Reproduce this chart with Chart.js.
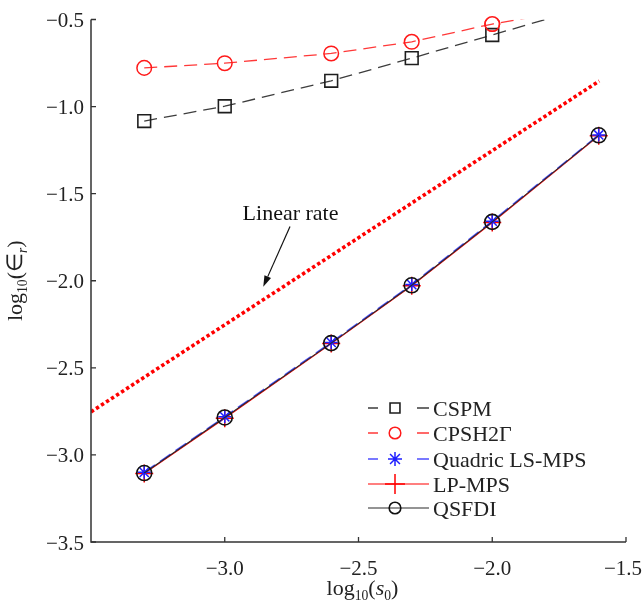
<!DOCTYPE html>
<html>
<head>
<meta charset="utf-8">
<script src="https://cdn.jsdelivr.net/npm/chart.js@4.4.1/dist/chart.umd.min.js"></script>
<style>
  html, body { margin: 0; padding: 0; background: #fff; }
  #wrap { width: 643px; height: 613px; }
</style>
</head>
<body>
<div id="wrap"><canvas id="c" width="643" height="613"></canvas></div>
<script>
// log10 of the particle spacing s0
const logS0 = [-3.301, -3.0, -2.602, -2.301, -2.0, -1.602];

// log10 of the error for each method
const cspm         = [-1.083, -0.998, -0.852, -0.722, -0.589, -0.410];
const cpsh2g       = [-0.778, -0.751, -0.695, -0.628, -0.526, -0.420];
const quadricLsMps = [-3.100, -2.781, -2.354, -2.022, -1.658, -1.163];
const lpMps        = [-3.107, -2.789, -2.361, -2.029, -1.665, -1.167];
const qsfdi        = [-3.104, -2.785, -2.358, -2.026, -1.662, -1.165];

// reference slope-1 line
const linearRateX = [-3.5, -1.6];
const linearRateY = [-2.753, -0.853];

const seriesNames = ['CSPM', 'CPSH2Γ', 'Quadric LS-MPS', 'LP-MPS', 'QSFDI'];

const xTickValues = [-3.0, -2.5, -2.0, -1.5];
const xTickLabels = ['−3.0', '−2.5', '−2.0', '−1.5'];
const yTickValues = [-0.5, -1.0, -1.5, -2.0, -2.5, -3.0, -3.5];
const yTickLabels = ['−0.5', '−1.0', '−1.5', '−2.0', '−2.5', '−3.0', '−3.5'];

const SERIF = "'Liberation Serif', 'Times New Roman', serif";

const pts = (xs, ys) => xs.map((x, i) => ({ x: x, y: ys[i] }));

const datasets = [
  {
    label: seriesNames[0], data: pts(logS0, cspm), order: 2,
    borderColor: '#3d3d3d', borderWidth: 1.3, borderDash: [13, 7],
    pointStyle: 'rect', pointRadius: 9, pointBorderColor: '#1e1e1e',
    pointBackgroundColor: 'rgba(0,0,0,0)', pointBorderWidth: 1.6
  },
  {
    label: seriesNames[1], data: pts(logS0, cpsh2g), order: 3,
    borderColor: '#ff3838', borderWidth: 1.3, borderDash: [13, 7],
    pointStyle: 'circle', pointRadius: 7.3, pointBorderColor: '#ff1a1a',
    pointBackgroundColor: 'rgba(0,0,0,0)', pointBorderWidth: 1.5
  },
  {
    label: seriesNames[2], data: pts(logS0, quadricLsMps), order: 4,
    borderColor: '#4d4dff', borderWidth: 1.6, borderDash: [13, 6],
    pointStyle: 'star', pointRadius: 6.5, pointBorderColor: '#1f1fff',
    pointBackgroundColor: 'rgba(0,0,0,0)', pointBorderWidth: 1.5
  },
  {
    label: seriesNames[3], data: pts(logS0, lpMps), order: 5,
    borderColor: '#ff0000', borderWidth: 1.2,
    pointStyle: 'cross', pointRadius: 9, pointBorderColor: '#ff0000',
    pointBackgroundColor: 'rgba(0,0,0,0)', pointBorderWidth: 1.5
  },
  {
    label: seriesNames[4], data: pts(logS0, qsfdi), order: 1,
    borderColor: '#2a2a2a', borderWidth: 1.1,
    pointStyle: 'circle', pointRadius: 7.5, pointBorderColor: '#111',
    pointBackgroundColor: 'rgba(0,0,0,0)', pointBorderWidth: 1.6
  },
  {
    label: 'Linear rate', data: pts(linearRateX, linearRateY), order: 9,
    borderColor: '#ff0000', borderWidth: 3.6, borderDash: [3.4, 2.6],
    pointRadius: 0
  }
];

// Draw rich text (subscripts / italics) left-aligned at (x, y) baseline
function richWidth(ctx, parts, size) {
  let w = 0;
  for (const p of parts) {
    ctx.font = (p.italic ? 'italic ' : '') + (p.sub ? size * 0.62 : size) + 'px ' + SERIF;
    w += ctx.measureText(p.t).width;
  }
  return w;
}
function richDraw(ctx, parts, size, x, y) {
  for (const p of parts) {
    ctx.font = (p.italic ? 'italic ' : '') + (p.sub ? size * 0.62 : size) + 'px ' + SERIF;
    ctx.fillText(p.t, x, p.sub ? y + size * 0.22 : y);
    x += ctx.measureText(p.t).width;
  }
}

// Markers sitting just under the top edge are redrawn without the area clip
const edgeMarkersPlugin = {
  id: 'edgeMarkers',
  afterDatasetsDraw(chart) {
    const a = chart.chartArea;
    const ctx = chart.ctx;
    [0, 1].forEach(i => {
      const meta = chart.getDatasetMeta(i);
      meta.data.forEach(el => {
        if (el.y >= a.top && el.y < a.top + 12) {
          ctx.save();
          el.draw(ctx, { left: 0, top: 0, right: chart.width, bottom: chart.height });
          ctx.restore();
        }
      });
    });
  }
};

const axesPlugin = {
  id: 'framedAxes',
  afterDraw(chart) {
    const ctx = chart.ctx;
    const xs = chart.scales.x, ys = chart.scales.y;
    const a = chart.chartArea;
    ctx.save();
    // axis lines
    ctx.strokeStyle = '#333';
    ctx.lineWidth = 1.5;
    ctx.beginPath();
    ctx.moveTo(a.left, a.top);
    ctx.lineTo(a.left, a.bottom);
    ctx.lineTo(a.right, a.bottom);
    ctx.stroke();
    // inward tick marks
    ctx.lineWidth = 1.3;
    ctx.beginPath();
    xTickValues.forEach(v => {
      const px = xs.getPixelForValue(v);
      ctx.moveTo(px, a.bottom);
      ctx.lineTo(px, a.bottom - 5);
    });
    yTickValues.forEach(v => {
      const py = ys.getPixelForValue(v);
      ctx.moveTo(a.left, py);
      ctx.lineTo(a.left + 5, py);
    });
    ctx.stroke();
    // tick labels
    ctx.fillStyle = '#222';
    ctx.font = '21px ' + SERIF;
    ctx.textBaseline = 'alphabetic';
    ctx.textAlign = 'center';
    xTickValues.forEach((v, i) => {
      let px = xs.getPixelForValue(v);
      const w = ctx.measureText(xTickLabels[i]).width;
      px = Math.min(px, chart.width - 1 - w / 2);
      ctx.fillText(xTickLabels[i], px, a.bottom + 33);
    });
    ctx.textAlign = 'right';
    yTickValues.forEach((v, i) => {
      const py = ys.getPixelForValue(v);
      ctx.fillText(yTickLabels[i], a.left - 7, py + 7.5);
    });
    // axis titles
    ctx.textAlign = 'left';
    const xTitle = [{ t: 'log' }, { t: '10', sub: true }, { t: '(' }, { t: 's', italic: true }, { t: '0', sub: true }, { t: ')' }];
    const xw = richWidth(ctx, xTitle, 22);
    richDraw(ctx, xTitle, 22, (a.left + a.right) / 2 + 4 - xw / 2, 595);
    const yTitle = [{ t: 'log' }, { t: '10', sub: true }, { t: '(' }, { t: '∈' }, { t: 'r', sub: true, italic: true }, { t: ')' }];
    const yw = richWidth(ctx, yTitle, 22);
    ctx.save();
    ctx.translate(22, (a.top + a.bottom) / 2);
    ctx.rotate(-Math.PI / 2);
    richDraw(ctx, yTitle, 22, -yw / 2, 0);
    ctx.restore();

    // "Linear rate" annotation with arrow
    ctx.font = '22px ' + SERIF;
    ctx.textAlign = 'center';
    ctx.fillStyle = '#111';
    ctx.fillText('Linear rate', xs.getPixelForValue(-2.754), ys.getPixelForValue(-1.611) + 7.5);
    const tx = xs.getPixelForValue(-2.756), ty = ys.getPixelForValue(-1.689);
    const hx = xs.getPixelForValue(-2.856), hy = ys.getPixelForValue(-2.034);
    const ang = Math.atan2(hy - ty, hx - tx);
    const hl = 11, hw = 3.6;
    const bx = hx - hl * Math.cos(ang), by = hy - hl * Math.sin(ang);
    ctx.strokeStyle = '#111';
    ctx.lineWidth = 1.2;
    ctx.beginPath();
    ctx.moveTo(tx, ty);
    ctx.lineTo(bx, by);
    ctx.stroke();
    ctx.beginPath();
    ctx.moveTo(hx, hy);
    ctx.lineTo(bx + hw * Math.sin(ang), by - hw * Math.cos(ang));
    ctx.lineTo(bx - hw * Math.sin(ang), by + hw * Math.cos(ang));
    ctx.closePath();
    ctx.fillStyle = '#111';
    ctx.fill();

    // legend
    const legendRows = [408, 433, 459, 484, 508];
    const legendMarker = [7, 5.8, 7, 10, 5.8];
    const x0 = 368, x1 = 429, mx = 395;
    for (let i = 0; i < 5; i++) {
      const ds = chart.data.datasets[i];
      const y = legendRows[i];
      ctx.strokeStyle = ds.borderColor;
      ctx.lineWidth = ds.borderWidth;
      ctx.setLineDash([]);
      ctx.beginPath();
      if (ds.borderDash) {
        ctx.moveTo(x0, y); ctx.lineTo(x0 + 10, y);
        ctx.moveTo(x1 - 12, y); ctx.lineTo(x1, y);
      } else {
        ctx.moveTo(x0, y); ctx.lineTo(x1, y);
      }
      ctx.stroke();
      ctx.strokeStyle = ds.pointBorderColor;
      ctx.fillStyle = 'rgba(0,0,0,0)';
      ctx.lineWidth = ds.pointBorderWidth;
      Chart.helpers.drawPoint(ctx, {
        pointStyle: ds.pointStyle, radius: legendMarker[i], rotation: 0,
        borderWidth: ds.pointBorderWidth
      }, mx, y);
      ctx.fillStyle = '#222';
      ctx.font = '22px ' + SERIF;
      ctx.textAlign = 'left';
      ctx.fillText(ds.label, 433, y + 7.5);
    }
    ctx.restore();
  }
};

new Chart(document.getElementById('c'), {
  type: 'line',
  data: { datasets: datasets },
  options: {
    responsive: false,
    animation: false,
    devicePixelRatio: 1,
    layout: { padding: { left: 0, top: 19.5, right: 17, bottom: 0 } },
    plugins: { legend: { display: false }, tooltip: { enabled: false } },
    scales: {
      x: {
        type: 'linear', min: -3.5, max: -1.5,
        grid: { display: false }, border: { display: false },
        ticks: { display: false },
        afterFit: s => { s.height = 71; }
      },
      y: {
        type: 'linear', min: -3.5, max: -0.5,
        grid: { display: false }, border: { display: false },
        ticks: { display: false },
        afterFit: s => { s.width = 91; }
      }
    }
  },
  plugins: [edgeMarkersPlugin, axesPlugin]
});
</script>
</body>
</html>
